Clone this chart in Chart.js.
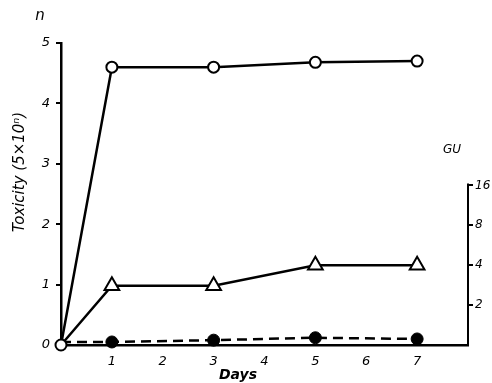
<!DOCTYPE html>
<html>
<head>
<meta charset="utf-8">
<script src="https://cdn.jsdelivr.net/npm/chart.js@4/dist/chart.umd.min.js"></script>
<style>
  html, body { margin: 0; padding: 0; background: #fff; }
  #wrap { width: 492px; height: 383px; }
</style>
</head>
<body>
<div id="wrap"><canvas id="toxChart" width="492" height="383"></canvas></div>
<script>
// Data
const days = [0, 1, 3, 5, 7];
const openCircles = [0, 4.6, 4.6, 4.68, 4.7];      // toxicity exponent n
const triangles = [1, 2.8, 2.8, 4, 4];             // GU (right axis)
const filledCircles = [0.05, 0.05, 0.08, 0.12, 0.1]; // toxicity exponent n
const leftTicks = [0, 1, 2, 3, 4, 5];
const xTicks = [1, 2, 3, 4, 5, 6, 7];
const guTicks = [2, 4, 8, 16];

const FONT = "'DejaVu Sans', sans-serif";

function pts(ys) {
    return days.map((d, i) => ({ x: d, y: ys[i] }));
}

// Extra text and the short right axis line
const extras = {
    id: 'extras',
    afterDraw(chart) {
        const ctx = chart.ctx;
        const area = chart.chartArea;
        const gu = chart.scales.yGU;
        ctx.save();
        ctx.strokeStyle = '#000';
        ctx.lineWidth = 2;
        ctx.beginPath();
        ctx.moveTo(area.right, gu.getPixelForValue(16) - 2);
        ctx.lineTo(area.right, area.bottom);
        ctx.stroke();

        ctx.fillStyle = '#000';
        ctx.font = 'italic 15px ' + FONT;
        ctx.textAlign = 'center';
        ctx.textBaseline = 'middle';
        ctx.fillText('n', 40, 16);
        ctx.font = 'italic 12px ' + FONT;
        ctx.fillText('GU', 452, 150);
        ctx.font = 'italic bold 14px ' + FONT;
        ctx.fillText('Days', 238, 375);

        ctx.translate(20, 172);
        ctx.rotate(-Math.PI / 2);
        ctx.font = 'italic 15px ' + FONT;
        ctx.fillText('Toxicity (5×10ⁿ)', 0, 0);
        ctx.restore();
    }
};

const ctx = document.getElementById('toxChart').getContext('2d');
new Chart(ctx, {
    type: 'line',
    data: {
        datasets: [
            {
                data: pts(openCircles),
                yAxisID: 'y',
                borderColor: '#000',
                borderWidth: 2.5,
                clip: false,
                pointStyle: 'circle',
                pointRadius: 5.5,
                pointBorderWidth: 2,
                pointBackgroundColor: '#fff',
                pointBorderColor: '#000',
                order: 1
            },
            {
                data: pts(triangles),
                yAxisID: 'yGU',
                borderColor: '#000',
                borderWidth: 2.5,
                clip: false,
                pointStyle: 'triangle',
                pointRadius: [0, 8.5, 8.5, 8.5, 8.5],
                pointBorderWidth: 2,
                pointBackgroundColor: '#fff',
                pointBorderColor: '#000',
                order: 2
            },
            {
                data: pts(filledCircles),
                yAxisID: 'y',
                borderColor: '#000',
                borderWidth: 2.5,
                borderDash: [10, 6],
                clip: false,
                pointStyle: 'circle',
                pointRadius: [0, 6, 6, 6, 6],
                pointBorderWidth: 1,
                pointBackgroundColor: '#000',
                pointBorderColor: '#000',
                order: 3
            }
        ]
    },
    options: {
        responsive: false,
        animation: false,
        layout: { padding: { top: 43, left: 0, right: 0, bottom: 0 } },
        plugins: {
            legend: { display: false },
            tooltip: { enabled: false }
        },
        scales: {
            x: {
                type: 'linear',
                min: 0,
                max: 8,
                afterFit(scale) { scale.height = 38; },
                afterBuildTicks(scale) { scale.ticks = xTicks.map(v => ({ value: v })); },
                grid: { display: false },
                border: { display: true, color: '#000', width: 2.5 },
                ticks: {
                    color: '#000',
                    font: { family: FONT, size: 13, style: 'italic' },
                    padding: 1
                }
            },
            y: {
                type: 'linear',
                position: 'left',
                min: 0,
                max: 5,
                afterFit(scale) { scale.width = 61; },
                afterBuildTicks(scale) { scale.ticks = leftTicks.map(v => ({ value: v })); },
                grid: { drawOnChartArea: false, tickLength: 5, color: '#000', lineWidth: 2 },
                border: { display: true, color: '#000', width: 2.5 },
                ticks: {
                    color: '#000',
                    font: { family: FONT, size: 13, style: 'italic' },
                    padding: 6
                }
            },
            yGU: {
                type: 'logarithmic',
                position: 'right',
                min: 1,
                max: 190,
                afterFit(scale) { scale.width = 24; },
                afterBuildTicks(scale) { scale.ticks = guTicks.map(v => ({ value: v })); },
                grid: { drawOnChartArea: false, tickLength: 5, color: '#000', lineWidth: 2 },
                border: { display: false },
                ticks: {
                    color: '#000',
                    font: { family: FONT, size: 12, style: 'italic' },
                    padding: 2,
                    callback: v => String(v)
                }
            }
        }
    },
    plugins: [extras]
});
</script>
</body>
</html>
